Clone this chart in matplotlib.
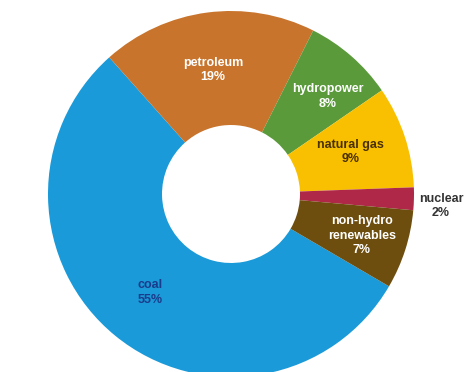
import numpy as np
import matplotlib
matplotlib.use("Agg")
from matplotlib import pyplot as plt

# energy share by source
sources = ["coal", "petroleum", "hydropower", "natural gas", "nuclear", "non-hydro\nrenewables"]
shares = [55, 19, 8, 9, 2, 7]

colors = ["#1a9ad8", "#c8742c", "#5a9a3a", "#f8c000", "#b02848", "#6e4e0e"]
text_colors = ["#1a3c8c", "white", "white", "#4a3000", "#333333", "white"]
# label placement: fraction of outer radius, angle nudge in degrees
label_radius = [0.695, 0.685, 0.75, 0.69, 1.15, 0.75]
label_nudge = [0, 0.8, -3.6, 1.0, -1.8, 0]

W, H = 466, 372
fig = plt.figure(figsize=(W / 100, H / 100), dpi=100)
ax = fig.add_axes([0, 0, 1, 1])

cx, cy, R = 231, 178, 183
wedges, _ = ax.pie(
    shares,
    colors=colors,
    startangle=-30.3,
    counterclock=False,
    center=(cx, cy),
    radius=R,
    wedgeprops={"width": R * 0.623, "linewidth": 0},
    frame=True,
)
ax.set_xlim(0, W)
ax.set_ylim(0, H)
ax.set_aspect("equal")
ax.axis("off")

for w, name, pct, tc, rf, dn in zip(wedges, sources, shares, text_colors,
                                    label_radius, label_nudge):
    mid = np.deg2rad((w.theta1 + w.theta2) / 2 + dn)
    x = cx + R * rf * np.cos(mid)
    y = cy + R * rf * np.sin(mid)
    ax.text(
        x, y, f"{name}\n{pct}%",
        ha="center", va="center",
        color=tc, fontsize=9, fontweight="bold", family="Liberation Sans",
        linespacing=1.25,
    )

fig.savefig("out.png", dpi=100)
